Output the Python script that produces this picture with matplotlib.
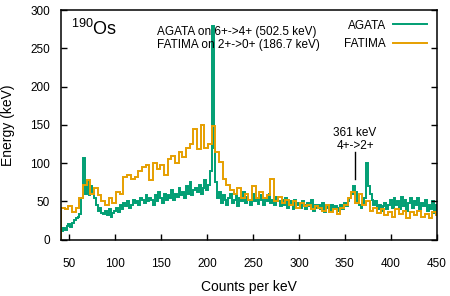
import matplotlib
matplotlib.use("Agg")
import matplotlib.pyplot as plt
import numpy as np

# AGATA spectrum, 2 keV bins starting at 41 keV
agata_start, agata_width = 41, 2
agata_counts = [
    12, 15, 13, 18, 20, 17, 22, 26, 28, 30,
    33, 55, 107, 60, 75, 58, 70, 62, 55, 45,
    38, 42, 35, 33, 38, 32, 40, 30, 35, 38,
    42, 36, 45, 40, 48, 44, 50, 42, 46, 52,
    48, 50, 45, 55, 52, 48, 58, 50, 55, 52,
    45, 58, 50, 62, 55, 48, 60, 52, 58, 55,
    65, 52, 60, 56, 68, 58, 62, 55, 70, 60,
    75, 58, 65, 68, 62, 72, 60, 68, 78, 65,
    72, 90, 279, 120, 75, 55, 62, 48, 58, 52,
    45, 55, 60, 48, 52, 58, 44, 55, 50, 62,
    48, 56, 52, 45, 60, 50, 55, 47, 58, 52,
    46, 55, 50, 60, 48, 52, 45, 56, 50, 44,
    52, 46, 55, 42, 50, 48, 40, 52, 45, 48,
    42, 50, 46, 40, 48, 44, 52, 38, 46, 42,
    45, 40, 48, 36, 44, 42, 38, 46, 40, 44,
    42, 38, 46, 40, 48, 44, 50, 55, 60, 70,
    62, 50, 45, 42, 48, 55, 100, 70, 60, 52,
    45, 50, 40, 46, 38, 44, 48, 40, 45, 52,
    42, 55, 45, 50, 40, 56, 44, 52, 38, 48,
    55, 42, 50, 46, 54, 40, 48, 44, 52, 38,
    46, 40, 50, 35, 45,
]

# FATIMA spectrum, 4 keV bins starting at 41 keV
fatima_start, fatima_width = 41, 4
fatima_counts = [
    42, 40, 44, 36, 42, 55, 72, 78, 60, 68,
    58, 50, 45, 55, 48, 62, 60, 82, 85, 80,
    82, 90, 95, 98, 78, 100, 92, 98, 85, 105,
    110, 100, 115, 108, 120, 125, 145, 118, 150, 120,
    125, 148, 115, 102, 80, 72, 65, 60, 68, 55,
    60, 52, 70, 55, 62, 55, 58, 80, 50, 56,
    48, 52, 45, 50, 42, 48, 44, 46, 40, 44,
    42, 38, 45, 36, 40, 34, 42, 45, 55, 62,
    48, 60, 45, 50, 38, 42, 35, 40, 32, 36,
    30, 40, 34, 38, 28, 36, 32, 38, 30, 34,
    28, 36, 32,
]

x_ticks = [50, 100, 150, 200, 250, 300, 350, 400, 450]
y_ticks = [0, 50, 100, 150, 200, 250, 300]

GREEN = "#009e73"
ORANGE = "#e69f00"

plt.rcParams["font.family"] = ["Liberation Sans", "DejaVu Sans"]
plt.rcParams["mathtext.fontset"] = "custom"
plt.rcParams["mathtext.rm"] = "Liberation Sans"

fig = plt.figure(figsize=(4.5, 2.96), dpi=100)
ax = fig.add_axes([0.1356, 0.19, 0.835, 0.776])

agata_edges = agata_start + agata_width * np.arange(len(agata_counts) + 1)
fatima_edges = fatima_start + fatima_width * np.arange(len(fatima_counts) + 1)

ax.stairs(agata_counts, agata_edges, color=GREEN, lw=1.4, label="AGATA")
ax.stairs(fatima_counts, fatima_edges, color=ORANGE, lw=1.4, label="FATIMA")

ax.set_xlim(41, 450)
ax.set_ylim(0, 300)
ax.set_xticks(x_ticks)
ax.set_yticks(y_ticks)
ax.tick_params(direction="in", length=4, width=1, labelsize=8.5, right=True, top=False)
ax.tick_params(axis="x", pad=13)
ax.tick_params(axis="y", pad=8)
for s in ax.spines.values():
    s.set_linewidth(1.1)

ax.set_xlabel("Counts per keV", fontsize=10, labelpad=7)
ax.set_ylabel("Energy (keV)", fontsize=10, labelpad=11)

ax.text(52, 267, r"$^{190}$Os", fontsize=13)
ax.text(146, 271, "AGATA on 6+->4+ (502.5 keV)", fontsize=8.5, va="center")
ax.text(146, 254, "FATIMA on 2+->0+ (186.7 keV)", fontsize=8.5, va="center")
ax.text(361, 139, "361 keV", fontsize=8.5, ha="center", va="center")
ax.text(361, 123, "4+->2+", fontsize=8.5, ha="center", va="center")
ax.plot([361, 361], [80, 114], color="black", lw=1)

ax.legend(loc="upper right", frameon=False, markerfirst=False, fontsize=8.5,
          handlelength=2.9, handletextpad=0.6, borderaxespad=0.4, labelspacing=0.55)

fig.savefig("out.png", dpi=100)
